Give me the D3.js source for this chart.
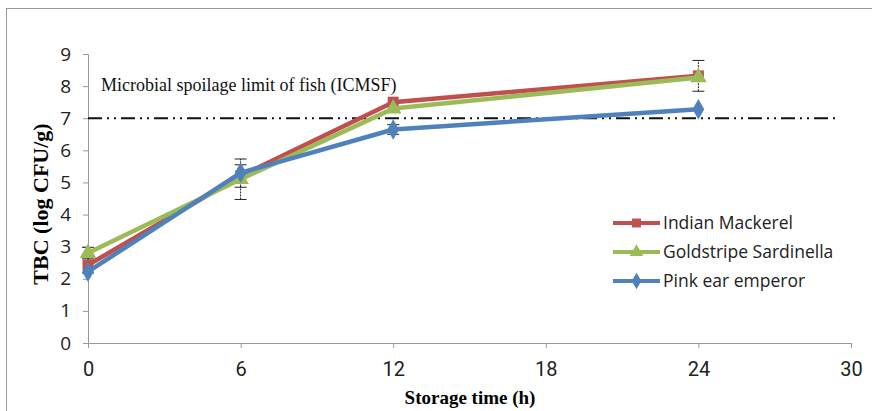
<!DOCTYPE html>
<html>
<head>
<meta charset="utf-8">
<script src="https://cdn.jsdelivr.net/npm/d3@7"></script>
<style>
  body { margin: 0; background: #fff; }
  svg { display: block; }
</style>
</head>
<body>
<svg width="872" height="411"></svg>
<script>
const hours = [0, 6, 12, 24]
const seriesNames = ['Indian Mackerel', 'Goldstripe Sardinella', 'Pink ear emperor']
const mackerel = [2.43, 5.2, 7.5, 8.32]
const sardinella = [2.8, 5.1, 7.3, 8.27]
const emperor = [2.22, 5.3, 6.65, 7.28]
const mackerelErr = [0.25, 0.35, 0, 0.48]
const sardinellaErr = [0.18, 0.63, 0, 0]
const emperorErr = [0, 0, 0.15, 0]
const xTicks = [0, 6, 12, 18, 24, 30]
const yTicks = [0, 1, 2, 3, 4, 5, 6, 7, 8, 9]
const limit = 7

const colors = ['#c0504d', '#9bbb59', '#4f81bd']
const shapes = [d3.symbolSquare, d3.symbolTriangle, d3.symbolDiamond]

const svg = d3.select('svg')

// outer frame
svg.append('rect').attr('x', 6.5).attr('y', 8.5).attr('width', 900).attr('height', 420)
  .attr('fill', 'none').attr('stroke', '#999')

const x = d3.scaleLinear().domain([0, 30]).range([88, 851])
const y = d3.scaleLinear().domain([0, 9]).range([343, 54])

// axes
const xAxis = svg.append('g').attr('transform', 'translate(0,343)')
  .call(d3.axisBottom(x).tickValues(xTicks).tickSize(5).tickPadding(14))
xAxis.select('.domain').attr('stroke', '#999')
xAxis.selectAll('line').attr('stroke', '#999')
xAxis.selectAll('text').attr('font-family', '"Liberation Sans Narrow", Roboto, sans-serif')
  .attr('font-size', 20).attr('fill', '#222')

const yAxis = svg.append('g').attr('transform', 'translate(88,0)')
  .call(d3.axisLeft(y).tickValues(yTicks).tickSize(5).tickPadding(12))
yAxis.select('.domain').attr('stroke', '#999')
yAxis.selectAll('line').attr('stroke', '#999')
yAxis.selectAll('text').attr('font-family', '"Open Sans", sans-serif')
  .attr('font-size', 19).attr('fill', '#222')

// axis titles
svg.append('text').attr('x', 470).attr('y', 404).attr('text-anchor', 'middle')
  .attr('font-family', '"Liberation Serif", serif').attr('font-weight', 'bold').attr('font-size', 19)
  .text('Storage time (h)')
svg.append('text').attr('transform', 'translate(48,204) rotate(-90)').attr('text-anchor', 'middle')
  .attr('font-family', '"Liberation Serif", serif').attr('font-weight', 'bold').attr('font-size', 22)
  .text('TBC (log CFU/g)')

// spoilage limit
svg.append('line').attr('x1', x(0)).attr('x2', x(29.5)).attr('y1', y(limit)).attr('y2', y(limit))
  .attr('stroke', '#111').attr('stroke-width', 2).attr('stroke-dasharray', '14,5,2,5,2,5')
svg.append('text').attr('x', 101).attr('y', 91)
  .attr('font-family', '"Liberation Serif", serif').attr('font-size', 18).attr('fill', '#111')
  .text('Microbial spoilage limit of fish (ICMSF)')

const series = [mackerel, sardinella, emperor]
const errs = [mackerelErr, sardinellaErr, emperorErr]
const line = d3.line().x((d, i) => x(hours[i])).y(d => y(d))

// error bars
series.forEach((vals, s) => {
  vals.forEach((v, i) => {
    const e = errs[s][i]
    if (!e) return
    const g = svg.append('g').attr('stroke', '#222').attr('stroke-width', 1)
    g.append('line').attr('x1', x(hours[i])).attr('x2', x(hours[i]))
      .attr('y1', y(v - e)).attr('y2', y(v + e)).attr('stroke-dasharray', '2,1')
    ;[v - e, v + e].forEach(c => {
      g.append('line').attr('x1', x(hours[i]) - 6).attr('x2', x(hours[i]) + 6)
        .attr('y1', y(c)).attr('y2', y(c))
    })
  })
})

series.forEach((vals, s) => {
  svg.append('path').datum(vals).attr('d', line).attr('fill', 'none')
    .attr('stroke', colors[s]).attr('stroke-width', 4.5).attr('stroke-linejoin', 'round')
  svg.selectAll('.m' + s).data(vals).enter().append('path')
    .attr('transform', (d, i) => `translate(${x(hours[i])},${y(d)})`)
    .attr('d', d3.symbol().type(shapes[s]).size(120))
    .attr('fill', colors[s])
})

// legend
const legend = svg.append('g')
seriesNames.forEach((name, s) => {
  const ly = 223 + s * 29
  legend.append('line').attr('x1', 613).attr('x2', 660).attr('y1', ly).attr('y2', ly)
    .attr('stroke', colors[s]).attr('stroke-width', 4)
  legend.append('path').attr('transform', `translate(636.5,${ly})`)
    .attr('d', d3.symbol().type(shapes[s]).size(80)).attr('fill', colors[s])
  legend.append('text').attr('x', 663).attr('y', ly + 6)
    .attr('font-family', '"Open Sans", sans-serif').attr('font-size', 17.5).attr('fill', '#222')
    .text(name)
})
</script>
</body>
</html>
